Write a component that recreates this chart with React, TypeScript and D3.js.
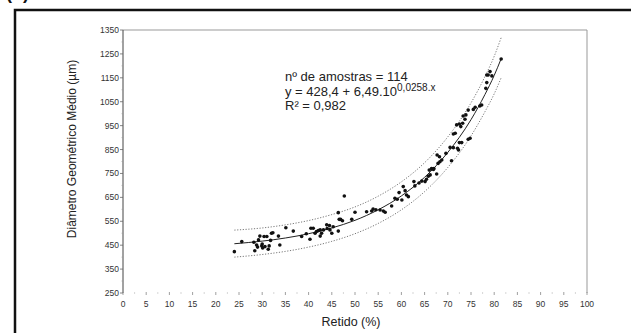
import React from "react";
import * as d3 from "d3";

const points: [number, number][] = [
  [24.0, 423], [25.6, 465], [28.4, 427], [28.8, 451], [29.2, 472], [29.5, 488], [29.9, 447], [30.1, 438],
  [30.4, 486], [30.6, 444], [31.0, 486], [31.3, 433], [31.5, 447], [32.0, 500], [32.3, 502], [30.0, 455],
  [29.0, 442], [33.5, 488], [33.8, 451], [35.1, 523], [36.7, 509], [28.2, 462], [31.8, 470],
  [38.5, 486], [40.3, 475], [40.5, 521], [41.0, 521], [41.4, 500], [41.7, 507], [42.1, 511], [42.5, 514],
  [42.5, 488], [42.8, 500], [43.2, 514], [43.9, 535], [44.5, 532], [44.6, 514], [45.0, 500], [45.3, 527],
  [46.4, 586], [46.6, 558], [46.9, 558], [47.3, 552], [47.7, 656], [46.4, 509], [49.3, 558], [50.0, 588],
  [39.5, 498], [44.0, 520],
  [53.6, 593], [53.9, 601], [55.4, 597], [56.1, 593], [56.5, 588], [57.9, 614], [58.6, 646], [59.1, 642],
  [59.5, 670], [60.1, 639], [60.8, 678], [61.1, 660], [61.5, 653], [62.7, 716], [62.9, 698], [60.4, 695],
  [54.5, 598], [52.5, 590],
  [64.4, 718], [65.1, 716], [65.4, 726], [66.2, 744], [66.0, 764], [66.5, 771], [67.0, 771], [67.6, 748],
  [67.7, 827], [67.9, 792], [68.3, 799], [68.7, 806], [69.6, 834], [66.9, 767], [68.2, 820], [63.8, 710],
  [65.8, 738],
  [70.8, 803], [71.2, 858], [72.1, 855], [72.5, 879], [71.2, 915], [71.6, 918], [71.9, 953], [72.5, 957],
  [72.8, 946], [73.2, 960], [73.7, 977], [73.9, 995], [74.4, 1015], [74.8, 897], [75.5, 1018], [75.9, 1027],
  [70.5, 859], [73.0, 879], [72.3, 848], [73.3, 990], [74.4, 893],
  [77.3, 1036], [76.9, 1032], [78.2, 1106], [78.4, 1130], [78.4, 1162], [78.7, 1162], [79.1, 1176],
  [79.5, 1158], [81.5, 1229],
];

const fitX = [24, 30, 35, 40, 45, 50, 55, 60, 65, 70, 75, 78, 80, 81.5];
const fitY = [456, 467, 480, 498, 522, 554, 598, 656, 734, 838, 975, 1080, 1160, 1230];
const upperY = [513, 522, 535, 553, 578, 610, 655, 715, 795, 903, 1045, 1155, 1240, 1318];
const lowerY = [400, 411, 424, 442, 466, 498, 541, 598, 674, 775, 907, 1008, 1083, 1150];

const yTicks = [250, 350, 450, 550, 650, 750, 850, 950, 1050, 1150, 1250, 1350];
const xTicks = d3.range(0, 101, 5);

const W = 631, H = 333;
const left = 123, right = 587, top = 30, bottom = 293;

export default function App() {
  const x = d3.scaleLinear().domain([0, 100]).range([left, right]);
  const y = d3.scaleLinear().domain([250, 1350]).range([bottom, top]);
  const line = d3.line<[number, number]>().x(d => x(d[0])).y(d => y(d[1])).curve(d3.curveMonotoneX);
  const mk = (ys: number[]) => line(fitX.map((v, i) => [v, ys[i]] as [number, number])) || "";
  const font = "'Liberation Sans', Arial, sans-serif";
  const minorY = d3.range(300, 1350, 100);
  const minorX = d3.range(2.5, 100, 5);
  return (
    <svg width={W} height={H} style={{ position: "absolute", left: 0, top: 0, background: "#fff" }} fontFamily={font}>
      <rect x={0} y={0} width={W} height={H} fill="#fff" />
      <text x={6} y={-1} fontSize={18} fontWeight="bold" fill="#111">(b)</text>
      <rect x={15} y={10} width={700} height={400} fill="none" stroke="#111" strokeWidth={2.5} />
      <line x1={left} x2={right} y1={top} y2={top} stroke="#999" strokeWidth={1} />
      <line x1={right} x2={right} y1={top} y2={bottom} stroke="#999" strokeWidth={1} />
      <line x1={left} x2={left} y1={top} y2={bottom} stroke="#444" strokeWidth={1} />
      {yTicks.map(t => (
        <g key={"y" + t}>
          <line x1={left - 3} x2={left} y1={y(t)} y2={y(t)} stroke="#666" strokeWidth={0.8} />
          <text x={left - 4} y={y(t) + 3} fontSize={8.5} textAnchor="end" fill="#333">{t}</text>
        </g>
      ))}
      {minorY.map(t => (
        <line key={"my" + t} x1={left - 1.5} x2={left} y1={y(t)} y2={y(t)} stroke="#999" strokeWidth={0.6} />
      ))}
      {xTicks.map(t => (
        <g key={"x" + t}>
          <line x1={x(t)} x2={x(t)} y1={bottom - 1} y2={bottom + 2} stroke="#888" strokeWidth={0.8} />
          <text x={x(t)} y={bottom + 14} fontSize={8.5} textAnchor="middle" fill="#333">{t}</text>
        </g>
      ))}
      {minorX.map(t => (
        <line key={"mx" + t} x1={x(t)} x2={x(t)} y1={bottom - 1} y2={bottom + 1} stroke="#bbb" strokeWidth={0.6} />
      ))}
      <text x={351} y={326} fontSize={12.5} textAnchor="middle" fill="#222">Retido (%)</text>
      <text transform={`translate(76,149) rotate(-90)`} fontSize={12} textAnchor="middle" fill="#222">
        Diâmetro Geométrico Médio (µm)
      </text>
      <path d={mk(upperY)} fill="none" stroke="#555" strokeWidth={0.8} strokeDasharray="1.2,1.6" />
      <path d={mk(lowerY)} fill="none" stroke="#555" strokeWidth={0.8} strokeDasharray="1.2,1.6" />
      <path d={mk(fitY)} fill="none" stroke="#222" strokeWidth={1} />
      {points.map((p, i) => (
        <circle key={i} cx={x(p[0])} cy={y(p[1])} r={1.8} fill="#111" />
      ))}
      <g fontSize={13} fill="#222">
        <text x={285} y={81}>nº de amostras = 114</text>
        <text x={285} y={96}>
          y = 428,4 + 6,49.10<tspan fontSize={10} dy={-5}>0,0258.x</tspan>
        </text>
        <text x={285} y={110}>R² = 0,982</text>
      </g>
    </svg>
  );
}
